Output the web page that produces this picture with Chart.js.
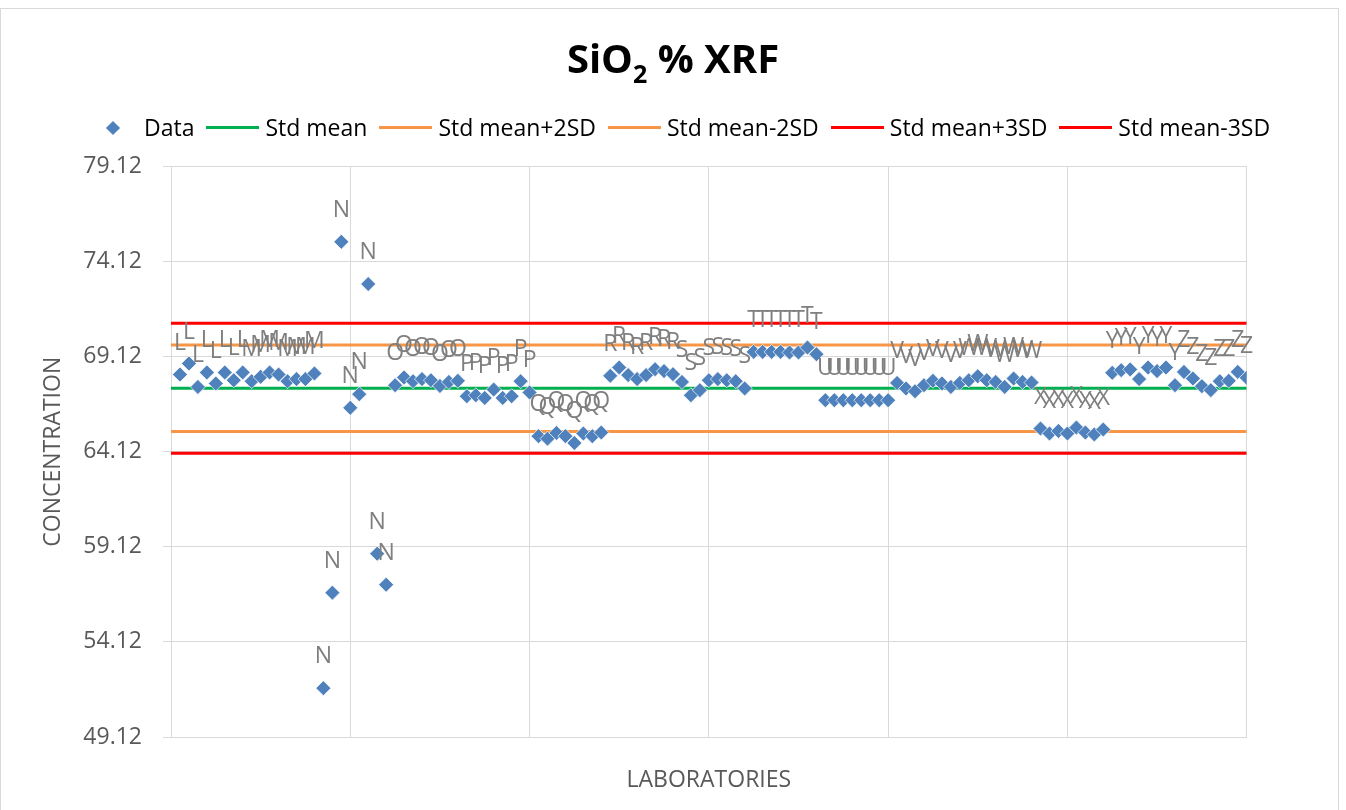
<!DOCTYPE html>
<html>
<head>
<meta charset="utf-8">
<script src="https://cdn.jsdelivr.net/npm/chart.js@4/dist/chart.umd.min.js"></script>
<style>
  body { margin:0; background:#fff; overflow:hidden; font-family:"Open Sans", sans-serif; }
  #frame { position:absolute; left:0; top:8px; width:1339px; height:820px; border:1px solid #d9d9d9; box-sizing:border-box; }
  #wrap { position:absolute; left:0; top:0; width:1346px; height:810px; }
  #title { position:absolute; left:0; top:38px; width:1346px; text-align:center; font-weight:700; font-size:40px; line-height:40px; color:#000; }
  #title sub { font-size:25px; line-height:0; vertical-align:baseline; position:relative; top:10px; }
  #legend { position:absolute; left:106px; top:116px; height:23px; display:flex; align-items:center; font-size:23px; line-height:23px; color:#000; white-space:nowrap; }
  .item { display:flex; align-items:center; }
  .dia { width:10px; height:10px; background:#4f81bd; transform:rotate(45deg); margin:0 26px 0 2px; }
  .ln { width:53px; height:3px; margin:0 6px 0 12px; }
</style>
</head>
<body>
<div id="frame"></div>
<div id="wrap"><canvas id="myChart"></canvas></div>
<div id="title">SiO<sub>2</sub> % XRF</div>
<div id="legend"></div>
<script>
// laboratory codes, 8 results each
const labs = ['L','M','N','O','P','Q','R','S','T','U','V','W','X','Y','Z'];
const labL = [68.18, 68.76, 67.53, 68.29, 67.71, 68.29, 67.88, 68.29];
const labM = [67.83, 68.06, 68.29, 68.18, 67.83, 67.94, 67.94, 68.24];
const labN = [51.69, 56.71, 75.16, 66.43, 67.15, 72.94, 58.76, 57.13];
const labO = [67.62, 68.03, 67.83, 67.94, 67.88, 67.58, 67.79, 67.85];
const labP = [67.04, 67.09, 66.95, 67.39, 66.95, 67.04, 67.83, 67.24];
const labQ = [64.94, 64.81, 65.11, 64.94, 64.58, 65.08, 64.94, 65.13];
const labR = [68.11, 68.55, 68.15, 67.94, 68.15, 68.46, 68.36, 68.20];
const labS = [67.79, 67.09, 67.36, 67.88, 67.94, 67.88, 67.83, 67.45];
const labT = [69.37, 69.37, 69.37, 69.37, 69.34, 69.34, 69.60, 69.25];
const labU = [66.83, 66.83, 66.83, 66.83, 66.83, 66.83, 66.83, 66.83];
const labV = [67.74, 67.45, 67.30, 67.62, 67.85, 67.71, 67.53, 67.74];
const labW = [67.88, 68.09, 67.88, 67.79, 67.53, 67.97, 67.79, 67.76];
const labX = [65.34, 65.08, 65.21, 65.08, 65.39, 65.13, 65.03, 65.29];
const labY = [68.27, 68.41, 68.45, 67.94, 68.55, 68.36, 68.55, 67.62];
const labZ = [68.32, 67.97, 67.57, 67.36, 67.83, 67.85, 68.32, 68.01];

const refNames  = ['Std mean','Std mean+2SD','Std mean-2SD','Std mean+3SD','Std mean-3SD'];
const refValues = [67.46, 69.74, 65.18, 70.88, 64.04];
const refColors = ['#00b050','#f79646','#f79646','#ff0000','#ff0000'];

const yTicks = [49.12, 54.12, 59.12, 64.12, 69.12, 74.12, 79.12];
const xMin = 0, xMax = 120;

const allValues = [labL,labM,labN,labO,labP,labQ,labR,labS,labT,labU,labV,labW,labX,labY,labZ];
const points = [];
const pointLabels = [];
allValues.forEach((arr, g) => {
  arr.forEach(v => {
    points.push({x: points.length + 1, y: v});
    pointLabels.push(labs[g]);
  });
});

const letterPlugin = {
  id: 'letters',
  afterDatasetsDraw(chart){
    const meta = chart.getDatasetMeta(0);
    const ctx = chart.ctx;
    ctx.save();
    ctx.font = '23px "Open Sans"';
    ctx.fillStyle = '#7f7f7f';
    ctx.textAlign = 'center';
    ctx.textBaseline = 'alphabetic';
    meta.data.forEach((pt, i) => {
      ctx.fillText(pointLabels[i], pt.x, pt.y - 25);
    });
    ctx.restore();
  }
};

const datasets = [{
  label: 'Data',
  data: points,
  pointStyle: 'rectRot',
  pointRadius: 7.5,
  backgroundColor: '#4f81bd',
  borderColor: 'rgba(255,255,255,0.7)',
  borderWidth: 1,
  showLine: false
}];
refValues.forEach((v, i) => {
  datasets.push({
    label: refNames[i],
    data: [{x: xMin, y: v}, {x: xMax, y: v}],
    showLine: true,
    borderColor: refColors[i],
    borderWidth: 3,
    pointRadius: 0
  });
});

var mychart = document.getElementById('myChart').getContext('2d');
new Chart(mychart, {
  type: 'scatter',
  data: { datasets },
  options: {
    responsive: true,
    maintainAspectRatio: false,
    animation: false,
    layout: { padding: { left: 0, top: 166.5, right: 99.3, bottom: 0 } },
    plugins: { legend: { display: false }, title: { display: false }, tooltip: { enabled: false } },
    scales: {
      x: {
        type: 'linear',
        min: xMin, max: xMax,
        ticks: { display: false, stepSize: 20 },
        grid: { color: '#d9d9d9', drawTicks: false },
        border: { color: '#d9d9d9' },
        title: { display: true, text: 'LABORATORIES', color: '#595959', font: { family: 'Open Sans', size: 23 }, padding: { top: 0, bottom: 16 } },
        afterFit(s){ s.height = 73; }
      },
      y: {
        min: yTicks[0], max: yTicks[yTicks.length - 1],
        afterBuildTicks(s){ s.ticks = yTicks.map(v => ({value: v})); },
        ticks: { color: '#595959', font: { family: 'Open Sans', size: 23 }, padding: 21, callback: v => v.toFixed(2) },
        grid: { color: '#d9d9d9', tickLength: 8 },
        border: { color: '#d9d9d9' },
        title: { display: true, text: 'CONCENTRATION', color: '#595959', font: { family: 'Open Sans', size: 23 }, padding: { top: 40, bottom: 0 } },
        afterFit(s){ s.width = 171; }
      }
    }
  },
  plugins: [letterPlugin]
});

// legend row
const leg = document.querySelector('#legend');
leg.innerHTML = `<div class="item"><div class="dia"></div><span>Data</span></div>` +
  refNames.map((n, i) => `<div class="item"><div class="ln" style="background:${refColors[i]}"></div><span>${n}</span></div>`).join('');
</script>
</body>
</html>
